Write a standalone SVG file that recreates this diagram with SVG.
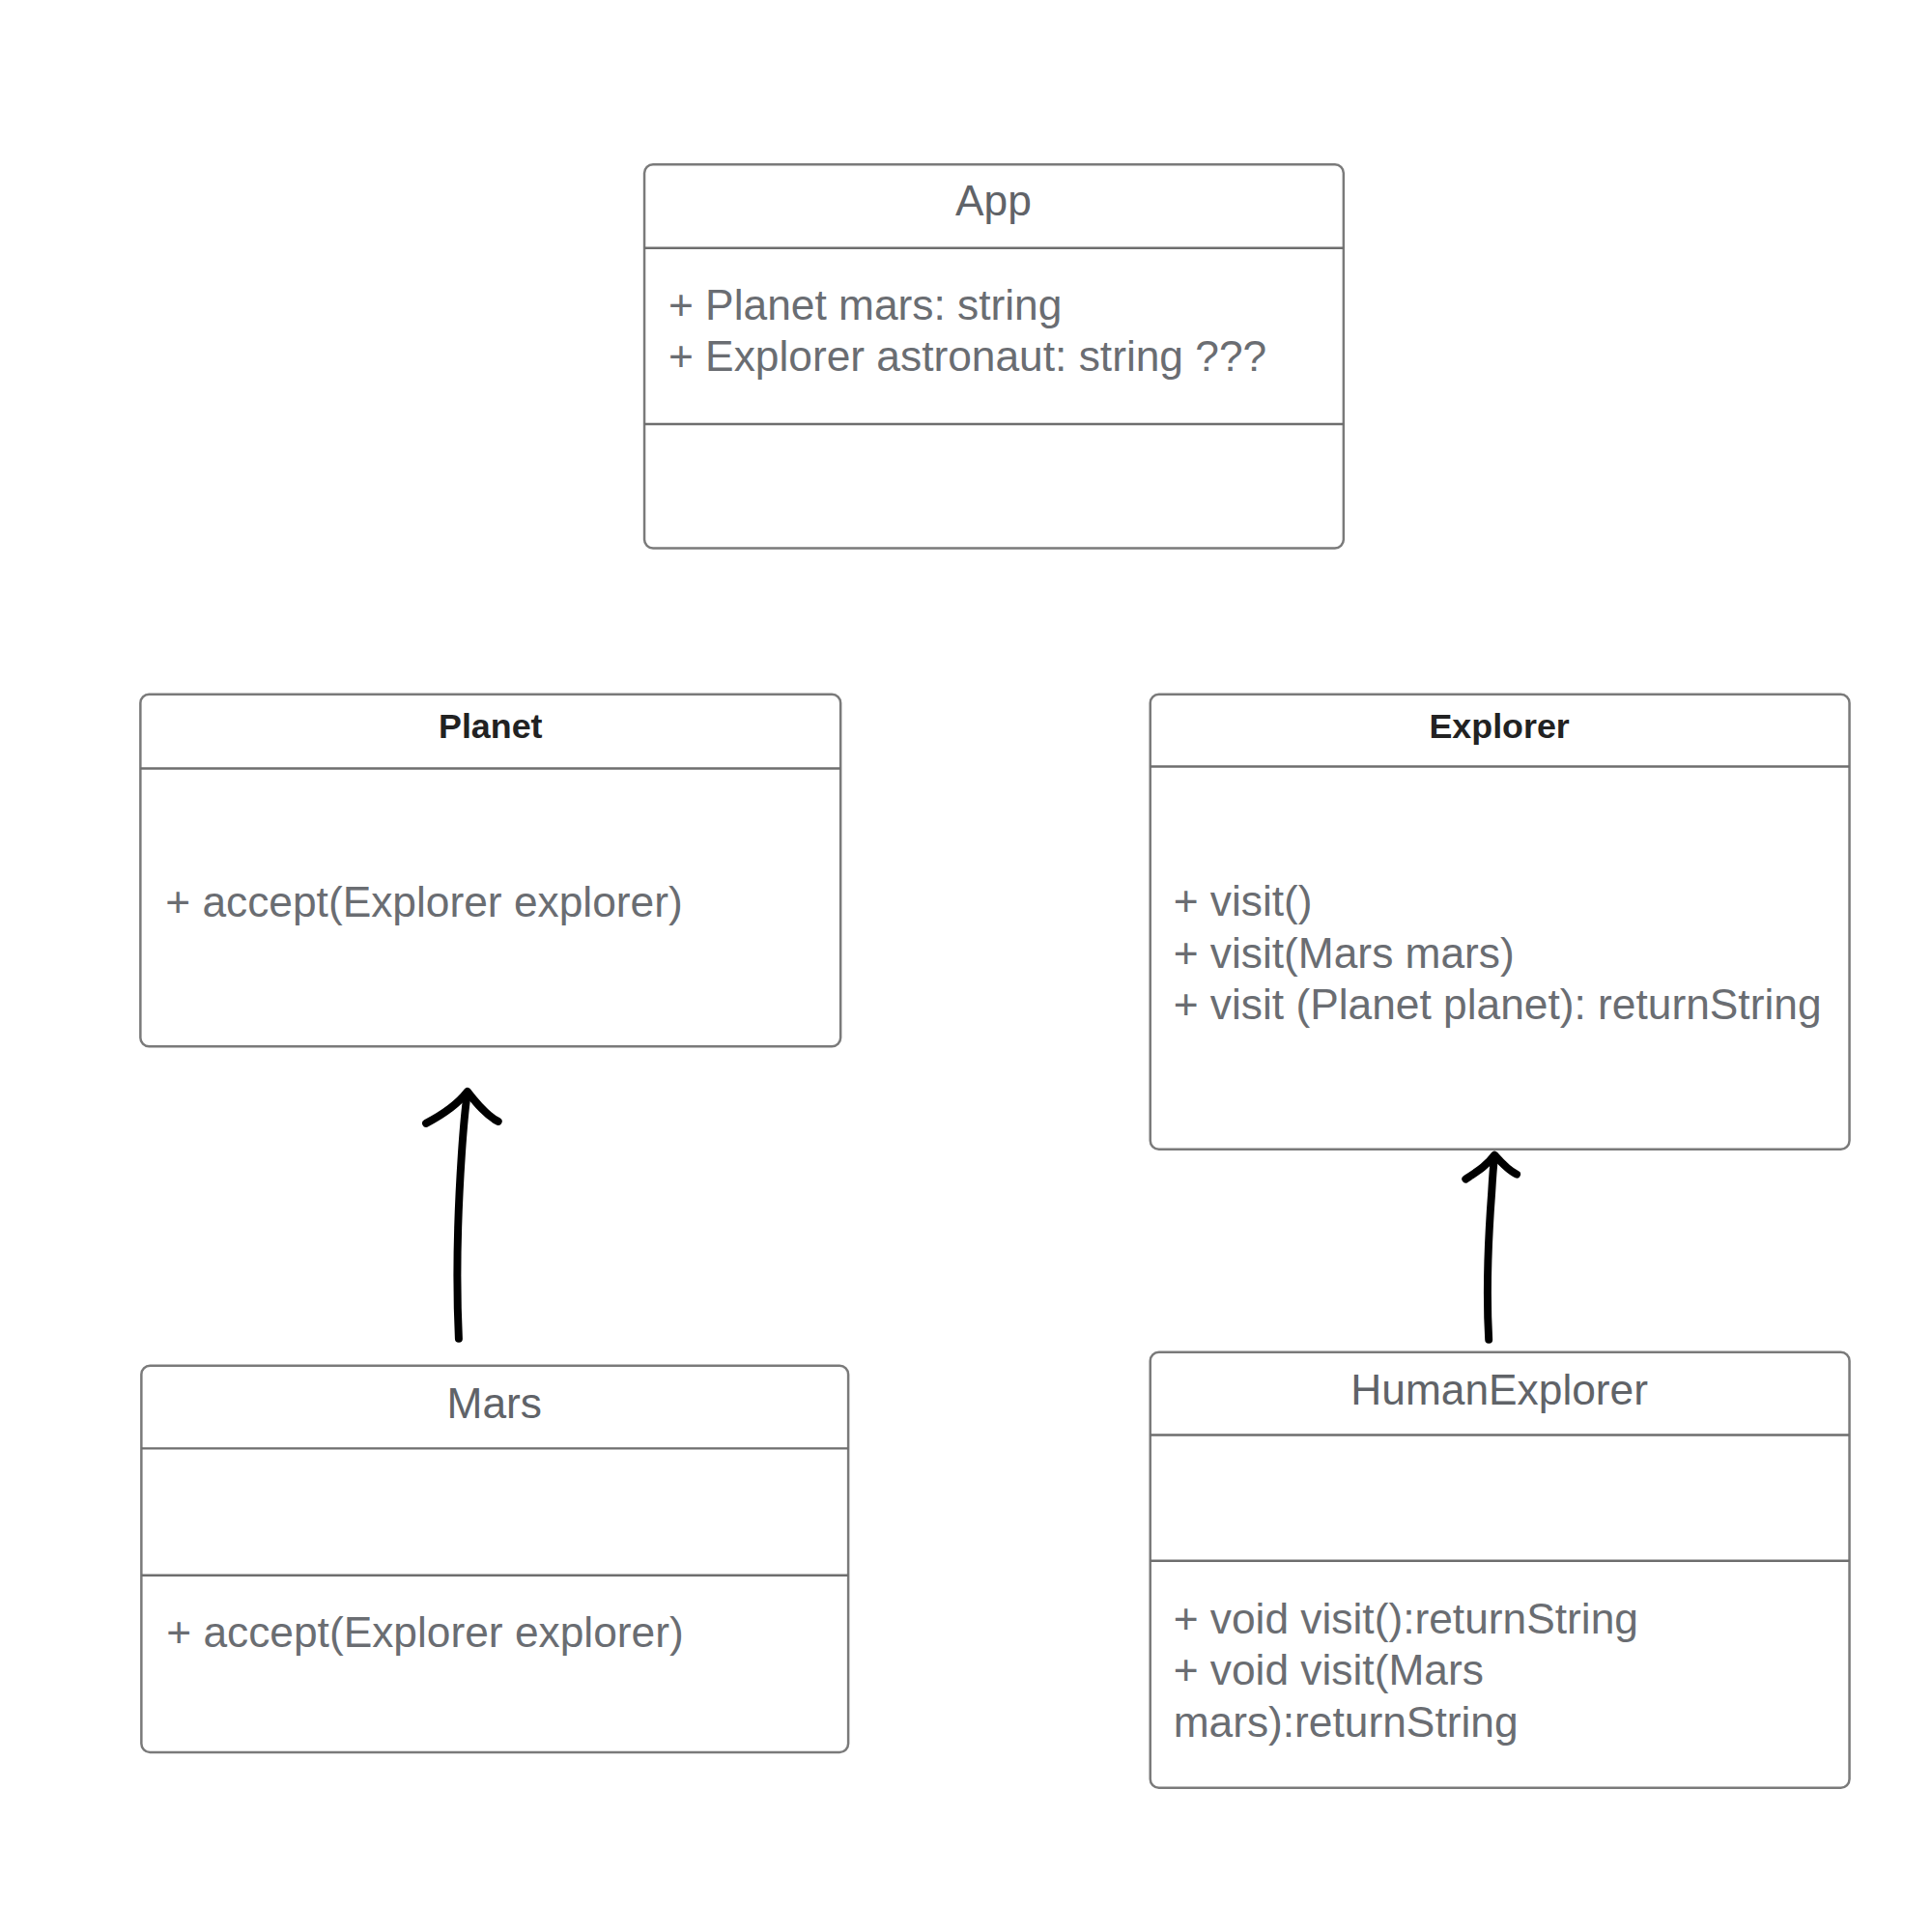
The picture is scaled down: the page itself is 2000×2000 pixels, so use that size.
<svg xmlns="http://www.w3.org/2000/svg" width="2000" height="2000" viewBox="0 0 2000 2000">
<style>
.box{fill:#ffffff;stroke:#7a7a7a;stroke-width:2.5}
.div{stroke:#6e6e6e;stroke-width:2.5}
.t{font-family:"Liberation Sans",Arial,sans-serif;font-size:44.5px;fill:#6a6d72}
.ttl{font-family:"Liberation Sans",Arial,sans-serif;font-size:44.5px;fill:#606368;text-anchor:middle}
.bt{font-family:"Liberation Sans",Arial,sans-serif;font-size:36px;font-weight:bold;fill:#222222;text-anchor:middle}
.arr{fill:none;stroke:#000000;stroke-width:8;stroke-linecap:round;stroke-linejoin:round}
</style>
<rect width="2000" height="2000" fill="#ffffff"/>
<g transform="scale(0.9956)">
<g id="app">
<rect class="box" x="670" y="171" width="727" height="399" rx="9"/>
<line class="div" x1="670" y1="258" x2="1397" y2="258"/>
<line class="div" x1="670" y1="441" x2="1397" y2="441"/>
<text class="ttl" x="1033" y="224">App</text>
<text class="t" x="695" y="332">+ Planet mars: string</text>
<text class="t" x="695" y="386">+ Explorer astronaut: string ???</text>
</g>
<g id="planet">
<rect class="box" x="146" y="722" width="728" height="366" rx="9"/>
<line class="div" x1="146" y1="799" x2="874" y2="799"/>
<text class="bt" x="510" y="767">Planet</text>
<text class="t" x="172" y="953">+ accept(Explorer explorer)</text>
</g>
<g id="explorer">
<rect class="box" x="1196" y="722" width="727" height="473" rx="9"/>
<line class="div" x1="1196" y1="797" x2="1923" y2="797"/>
<text class="bt" x="1559" y="767">Explorer</text>
<text class="t" x="1220" y="952">+ visit()</text>
<text class="t" x="1220" y="1006">+ visit(Mars mars)</text>
<text class="t" x="1220" y="1060">+ visit (Planet planet): returnString</text>
</g>
<g id="mars">
<rect class="box" x="147" y="1420" width="735" height="402" rx="9"/>
<line class="div" x1="147" y1="1506" x2="882" y2="1506"/>
<line class="div" x1="147" y1="1638" x2="882" y2="1638"/>
<text class="ttl" x="514" y="1474">Mars</text>
<text class="t" x="173" y="1713">+ accept(Explorer explorer)</text>
</g>
<g id="humanexplorer">
<rect class="box" x="1196" y="1406" width="727" height="453" rx="9"/>
<line class="div" x1="1196" y1="1492" x2="1923" y2="1492"/>
<line class="div" x1="1196" y1="1623" x2="1923" y2="1623"/>
<text class="ttl" x="1559" y="1460">HumanExplorer</text>
<text class="t" x="1220" y="1698">+ void visit():returnString</text>
<text class="t" x="1220" y="1752">+ void visit(Mars</text>
<text class="t" x="1220" y="1806">mars):returnString</text>
</g>
<g id="connectors">
<path class="arr" d="M477,1392 C474,1330 476,1260 480,1200 C482,1170 484,1150 486,1136"/>
<path class="arr" d="M443,1168 C462,1158 476,1148 486,1135 C496,1148 506,1160 518,1166"/>
<path class="arr" d="M1548,1393 C1545,1340 1548,1280 1551,1240 C1552,1222 1553,1210 1554,1202"/>
<path class="arr" d="M1524,1226 C1536,1218 1546,1212 1554,1201 C1562,1210 1570,1218 1577,1221"/>
</g>
</g>
</svg>
